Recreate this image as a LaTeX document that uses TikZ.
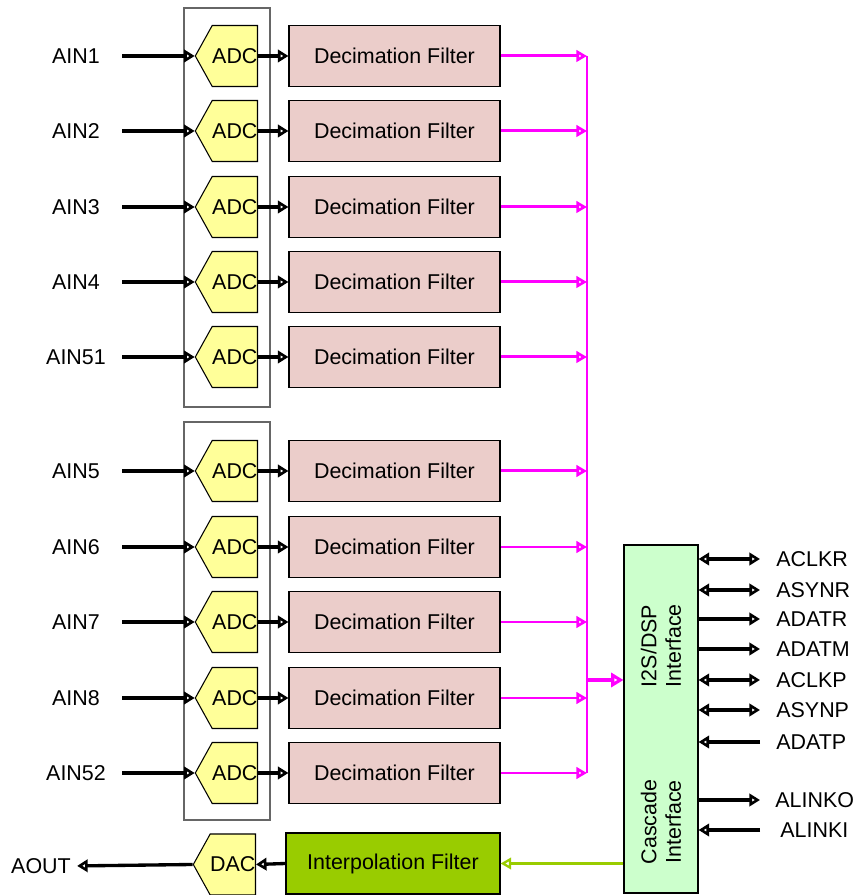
\documentclass[tikz,border=0pt]{standalone}
\usepackage{fontspec}
\setmainfont{Liberation Sans}
\usetikzlibrary{arrows.meta,shapes.symbols}
\definecolor{decpink}{HTML}{EBCDCA}
\definecolor{adcyellow}{HTML}{FFFF99}
\definecolor{ifgreen}{HTML}{CCFFCC}
\definecolor{intgreen}{HTML}{99CC00}
\definecolor{busmag}{HTML}{FF00FF}
\tikzset{
  conv/.style={draw=black, line width=0.6pt, fill=adcyellow, signal, signal to=west,
    signal pointer angle=122, minimum width=1.2cm, minimum height=1.22cm, inner sep=0pt, anchor=east},
  decbox/.style={draw=black, line width=0.6pt, fill=decpink, minimum width=4.22cm, minimum height=1.22cm},
  grpbox/.style={draw=black!60, line width=0.6pt},
  inlabel/.style={minimum width=1.84cm, inner sep=0pt},
  outlabel/.style={anchor=west, inner sep=0pt},
  sig/.style={line width=1.9pt, -{Triangle[open,length=6pt,width=7pt]}},
  bisig/.style={line width=1.9pt, {Triangle[open,length=6pt,width=7pt]}-{Triangle[open,length=6pt,width=7pt]}},
  magsig/.style={draw=busmag, line width=1.7pt, -{Triangle[open,length=6pt,width=6.5pt]}}
}
\begin{document}
\begin{tikzpicture}[font=\fontsize{12.2}{14}\selectfont]
  \useasboundingbox (0,0) rectangle (17.14,17.9);
  \draw[grpbox] (3.68,9.76) rectangle (5.4,17.74);
  \draw[grpbox] (3.68,1.5) rectangle (5.4,9.46);
  \node[inlabel] (ain1) at (1.52,16.78) {AIN1};
  \node[inlabel] (ain2) at (1.52,15.28) {AIN2};
  \node[inlabel] (ain3) at (1.52,13.76) {AIN3};
  \node[inlabel] (ain4) at (1.52,12.26) {AIN4};
  \node[inlabel] (ain51) at (1.52,10.76) {AIN51};
  \node[inlabel] (ain5) at (1.52,8.48) {AIN5};
  \node[inlabel] (ain6) at (1.52,6.96) {AIN6};
  \node[inlabel] (ain7) at (1.52,5.46) {AIN7};
  \node[inlabel] (ain8) at (1.52,3.94) {AIN8};
  \node[inlabel] (ain52) at (1.52,2.44) {AIN52};
  \node[conv] (adc1) at (5.16,16.78) {ADC\hspace{0.14cm}};
  \node[conv] (adc2) at (5.16,15.28) {ADC\hspace{0.14cm}};
  \node[conv] (adc3) at (5.16,13.76) {ADC\hspace{0.14cm}};
  \node[conv] (adc4) at (5.16,12.26) {ADC\hspace{0.14cm}};
  \node[conv] (adc51) at (5.16,10.76) {ADC\hspace{0.14cm}};
  \node[conv] (adc5) at (5.16,8.48) {ADC\hspace{0.14cm}};
  \node[conv] (adc6) at (5.16,6.96) {ADC\hspace{0.14cm}};
  \node[conv] (adc7) at (5.16,5.46) {ADC\hspace{0.14cm}};
  \node[conv] (adc8) at (5.16,3.94) {ADC\hspace{0.14cm}};
  \node[conv] (adc52) at (5.16,2.44) {ADC\hspace{0.14cm}};
  \node[decbox] (dec1) at (7.89,16.78) {Decimation Filter};
  \node[decbox] (dec2) at (7.89,15.28) {Decimation Filter};
  \node[decbox] (dec3) at (7.89,13.76) {Decimation Filter};
  \node[decbox] (dec4) at (7.89,12.26) {Decimation Filter};
  \node[decbox] (dec51) at (7.89,10.76) {Decimation Filter};
  \node[decbox] (dec5) at (7.89,8.48) {Decimation Filter};
  \node[decbox] (dec6) at (7.89,6.96) {Decimation Filter};
  \node[decbox] (dec7) at (7.89,5.46) {Decimation Filter};
  \node[decbox] (dec8) at (7.89,3.94) {Decimation Filter};
  \node[decbox] (dec52) at (7.89,2.44) {Decimation Filter};
  \draw[sig] (ain1.east) -- (adc1.west);
  \draw[sig] (ain2.east) -- (adc2.west);
  \draw[sig] (ain3.east) -- (adc3.west);
  \draw[sig] (ain4.east) -- (adc4.west);
  \draw[sig] (ain51.east) -- (adc51.west);
  \draw[sig] (ain5.east) -- (adc5.west);
  \draw[sig] (ain6.east) -- (adc6.west);
  \draw[sig] (ain7.east) -- (adc7.west);
  \draw[sig] (ain8.east) -- (adc8.west);
  \draw[sig] (ain52.east) -- (adc52.west);
  \draw[sig] (adc1.east) -- (dec1.west);
  \draw[sig] (adc2.east) -- (dec2.west);
  \draw[sig] (adc3.east) -- (dec3.west);
  \draw[sig] (adc4.east) -- (dec4.west);
  \draw[sig] (adc51.east) -- (dec51.west);
  \draw[sig] (adc5.east) -- (dec5.west);
  \draw[sig] (adc6.east) -- (dec6.west);
  \draw[sig] (adc7.east) -- (dec7.west);
  \draw[sig] (adc8.east) -- (dec8.west);
  \draw[sig] (adc52.east) -- (dec52.west);
  \coordinate (bustop) at (11.74,16.78);
  \coordinate (busbot) at (11.74,2.44);
  \coordinate (busout) at (11.74,4.3);
  \draw[busmag, line width=0.8pt] (bustop) -- (busbot);
  \draw[magsig] (dec1.east) -- (dec1.east -| bustop);
  \draw[magsig] (dec2.east) -- (dec2.east -| bustop);
  \draw[magsig] (dec3.east) -- (dec3.east -| bustop);
  \draw[magsig] (dec4.east) -- (dec4.east -| bustop);
  \draw[magsig] (dec51.east) -- (dec51.east -| bustop);
  \draw[magsig] (dec5.east) -- (dec5.east -| bustop);
  \draw[magsig] (dec6.east) -- (dec6.east -| bustop);
  \draw[magsig] (dec7.east) -- (dec7.east -| bustop);
  \draw[magsig] (dec8.east) -- (dec8.east -| bustop);
  \draw[magsig] (dec52.east) -- (dec52.east -| bustop);
  \node[draw=black, line width=0.6pt, fill=ifgreen, minimum width=1.48cm, minimum height=6.96cm] (iface) at (13.22,3.52) {};
  \node[rotate=90, align=center] (i2s) at (13.22,4.98) {I2S/DSP\\Interface};
  \node[rotate=90, align=center] (casc) at (13.22,1.46) {Cascade\\Interface};
  \draw[magsig, line width=2.3pt, -{Triangle[open,length=7pt,width=8pt]}] (busout) -- (busout -| iface.west);
  \node[outlabel] (aclkr) at (15.52,6.72) {ACLKR};
  \node[outlabel] (asynr) at (15.52,6.1) {ASYNR};
  \node[outlabel] (adatr) at (15.52,5.52) {ADATR};
  \node[outlabel] (adatm) at (15.52,4.92) {ADATM};
  \node[outlabel] (aclkp) at (15.52,4.3) {ACLKP};
  \node[outlabel] (asynp) at (15.52,3.7) {ASYNP};
  \node[outlabel] (adatp) at (15.52,3.06) {ADATP};
  \node[outlabel] (alinko) at (15.5,1.9) {ALINKO};
  \node[outlabel] (alinki) at (15.6,1.3) {ALINKI};
  \draw[bisig, shorten >=0.32cm] (aclkr -| iface.east) -- (aclkr.west);
  \draw[bisig, shorten >=0.32cm] (asynr -| iface.east) -- (asynr.west);
  \draw[sig, shorten >=0.32cm] (adatr -| iface.east) -- (adatr.west);
  \draw[sig, shorten >=0.32cm] (adatm -| iface.east) -- (adatm.west);
  \draw[bisig, shorten >=0.32cm] (aclkp -| iface.east) -- (aclkp.west);
  \draw[bisig, shorten >=0.32cm] (asynp -| iface.east) -- (asynp.west);
  \draw[sig, shorten <=0.32cm] (adatp.west) -- (adatp -| iface.east);
  \draw[sig, shorten >=0.3cm] (alinko -| iface.east) -- (alinko.west);
  \draw[sig, shorten <=0.4cm] (alinki.west) -- (alinki -| iface.east);
  \node[draw=black, line width=0.6pt, fill=intgreen, minimum width=4.28cm, minimum height=1.22cm] (interp) at (7.86,0.63) {Interpolation Filter};
  \node[conv] (dac) at (5.12,0.61) {DAC\hspace{0.14cm}};
  \node[inner sep=0pt] (aout) at (0.82,0.58) {AOUT};
  \draw[draw=intgreen, line width=1.3pt, -{Triangle[open,length=6pt,width=6.5pt]}] (interp.east -| iface.west) -- (interp.east);
  \draw[sig] (interp.west) -- (dac.east);
  \draw[sig, shorten >=0.12cm] (dac.west) -- (aout.east);
\end{tikzpicture}
\end{document}
